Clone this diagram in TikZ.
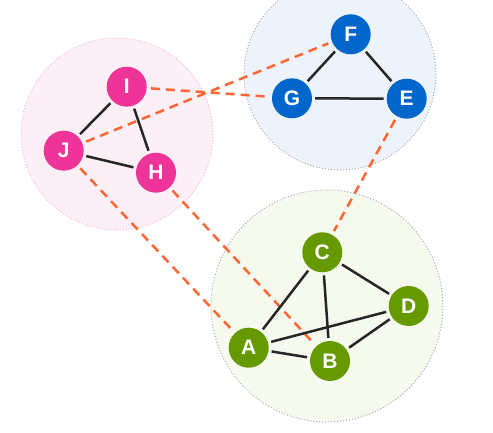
\documentclass[tikz,border=0pt]{standalone}
\usepackage{fontspec}
\setmainfont{Liberation Sans}
\definecolor{pinkn}{HTML}{EE3399}
\definecolor{bluen}{HTML}{0066CC}
\definecolor{greenn}{HTML}{669900}
\definecolor{orangel}{HTML}{FF6633}
\definecolor{pinkf}{HTML}{FDEFF6}
\definecolor{bluef}{HTML}{EDF3FA}
\definecolor{greenf}{HTML}{F5F9EE}
\definecolor{ringc}{HTML}{AAAAAA}
\begin{document}
\begin{tikzpicture}[x=1pt,y=-1pt,
  vert/.style={circle,minimum size=40pt,inner sep=0pt,text=white,font=\fontsize{21}{21}\selectfont\bfseries},
  pv/.style={vert,fill=pinkn},
  bv/.style={vert,fill=bluen},
  gv/.style={vert,fill=greenn},
  solidedge/.style={draw=black!85,line width=2.5pt,shorten <=3pt,shorten >=3pt},
  crossedge/.style={draw=orangel,line width=2.5pt,dash pattern=on 9pt off 6pt,shorten <=4pt,shorten >=4pt},
  group/.style={line width=1pt,dotted}]
\useasboundingbox (0,0) rectangle (493,433);
\fill[white] (0,0) rectangle (493,433);
% groups
\draw[group,fill=pinkf,draw=pinkn!35] (117,134) circle (96);
\draw[group,fill=bluef,draw=ringc] (340,74) circle (96);
\draw[group,fill=greenf,draw=ringc] (327,306) circle (116);
% nodes
\node[bv] (F) at (350.7,34.3) {F};
\node[bv] (G) at (292,98.3) {G};
\node[bv] (E) at (406.7,98.7) {E};
\node[pv] (I) at (126.7,86.7) {I};
\node[pv] (J) at (63.7,150.7) {J};
\node[pv] (H) at (156,172.7) {H};
\node[gv] (C) at (322.3,252.3) {C};
\node[gv] (D) at (408.7,306) {D};
\node[gv] (A) at (248.7,347.7) {A};
\node[gv] (B) at (330,361) {B};
% dashed cross-group edges
\draw[crossedge] (I) -- (G);
\draw[crossedge] (J) -- (F);
\draw[crossedge] (J) -- (A);
\draw[crossedge] (H) -- (B);
\draw[crossedge] (E) -- (C);
% solid edges
\draw[solidedge] (I) -- (J);
\draw[solidedge] (I) -- (H);
\draw[solidedge] (J) -- (H);
\draw[solidedge] (F) -- (G);
\draw[solidedge] (F) -- (E);
\draw[solidedge] (G) -- (E);
\draw[solidedge] (C) -- (A);
\draw[solidedge] (C) -- (B);
\draw[solidedge] (C) -- (D);
\draw[solidedge] (A) -- (D);
\draw[solidedge] (A) -- (B);
\draw[solidedge] (B) -- (D);
\end{tikzpicture}
\end{document}
